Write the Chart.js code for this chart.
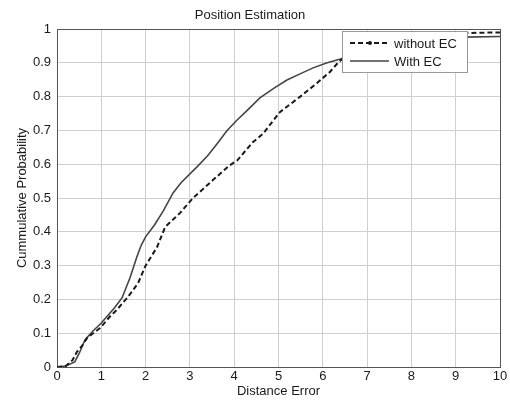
<!DOCTYPE html>
<html>
<head>
<meta charset="utf-8">
<script src="https://cdn.jsdelivr.net/npm/chart.js@4/dist/chart.umd.min.js"></script>
<style>
  html, body { margin: 0; padding: 0; background: #fff; }
  canvas { display: block; }
</style>
</head>
<body>
<canvas id="cdfChart" width="510" height="400"></canvas>
<script>
// distance error (x) and cumulative probability (y)
const withoutEcX = [0, 0.2, 0.35, 0.45, 0.55, 0.68, 0.97, 1.2, 1.35, 1.6, 1.83, 2.0, 2.26, 2.44, 2.78, 3.07, 3.52, 3.9, 4.06, 4.42, 4.65, 5.03, 5.49, 5.87, 6.16, 6.34, 6.45, 7.0, 7.5, 8.2, 8.8, 9.2, 10];
const withoutEcY = [0, 0.003, 0.02, 0.045, 0.06, 0.086, 0.115, 0.15, 0.169, 0.207, 0.248, 0.3, 0.355, 0.414, 0.456, 0.5, 0.553, 0.597, 0.61, 0.665, 0.69, 0.754, 0.8, 0.84, 0.873, 0.9, 0.912, 0.94, 0.96, 0.975, 0.983, 0.988, 0.99];

const withEcX = [0, 0.2, 0.4, 0.5, 0.63, 0.8, 1.0, 1.3, 1.47, 1.65, 1.8, 1.9, 2.0, 2.2, 2.4, 2.62, 2.8, 3.16, 3.4, 3.61, 3.84, 4.06, 4.3, 4.58, 4.9, 5.19, 5.5, 5.78, 6.1, 6.4, 6.8, 7.3, 8.0, 8.6, 9.2, 10];
const withEcY = [0, 0.003, 0.015, 0.04, 0.08, 0.105, 0.13, 0.175, 0.205, 0.265, 0.325, 0.36, 0.385, 0.42, 0.462, 0.515, 0.545, 0.592, 0.625, 0.66, 0.7, 0.73, 0.76, 0.796, 0.825, 0.849, 0.868, 0.885, 0.9, 0.911, 0.93, 0.945, 0.96, 0.97, 0.976, 0.978];

const seriesLabels = ['without EC', 'With EC'];

const fontFamily = '"Liberation Sans", Arial, sans-serif';
const textColor = '#1a1a1a';

function toPoints(xs, ys) {
    return xs.map((x, i) => ({ x: x, y: ys[i] }));
}

// box around the plot area, like matlab axes
const framePlugin = {
    id: 'frame',
    beforeDatasetsDraw(chart) {
        const a = chart.chartArea;
        const ctx = chart.ctx;
        ctx.save();
        ctx.strokeStyle = '#555';
        ctx.lineWidth = 1;
        ctx.strokeRect(a.left + 0.5, a.top + 0.5, a.right - a.left, a.bottom - a.top);
        ctx.restore();
    }
};

// legend drawn inside the axes, top right, with white fill
const boxLegendPlugin = {
    id: 'boxLegend',
    afterDatasetsDraw(chart) {
        const a = chart.chartArea;
        const ctx = chart.ctx;
        const x = a.right - 158, y = a.top + 2, w = 125, h = 41;
        ctx.save();
        ctx.fillStyle = '#fff';
        ctx.fillRect(x, y, w, h);
        ctx.strokeStyle = '#999';
        ctx.lineWidth = 1;
        ctx.strokeRect(x + 0.5, y + 0.5, w, h);

        chart.data.datasets.forEach((ds, i) => {
            const ly = y + 12 + i * 18;
            ctx.strokeStyle = ds.borderColor;
            ctx.lineWidth = ds.borderWidth;
            ctx.setLineDash(ds.borderDash || []);
            ctx.beginPath();
            ctx.moveTo(x + 8, ly);
            ctx.lineTo(x + 47, ly);
            ctx.stroke();
            ctx.setLineDash([]);
            if (i === 0) {
                ctx.fillStyle = ds.borderColor;
                ctx.beginPath();
                ctx.arc(x + 28, ly, 2, 0, Math.PI * 2);
                ctx.fill();
            }
            ctx.fillStyle = textColor;
            ctx.font = '13px ' + fontFamily;
            ctx.textBaseline = 'middle';
            ctx.fillText(ds.label, x + 52, ly + 1);
        });
        ctx.restore();
    }
};

new Chart(document.getElementById('cdfChart'), {
    type: 'line',
    data: {
        datasets: [
            {
                label: seriesLabels[0],
                data: toPoints(withoutEcX, withoutEcY),
                borderColor: '#1a1a1a',
                borderWidth: 2,
                borderDash: [5, 3],
                pointRadius: 0,
                fill: false,
                tension: 0
            },
            {
                label: seriesLabels[1],
                data: toPoints(withEcX, withEcY),
                borderColor: '#444',
                borderWidth: 1.6,
                pointRadius: 0,
                fill: false,
                tension: 0
            }
        ]
    },
    options: {
        responsive: false,
        animation: false,
        layout: { padding: { left: 0, right: 10, top: 0, bottom: 0 } },
        plugins: {
            legend: { display: false },
            tooltip: { enabled: false },
            title: {
                display: true,
                text: 'Position Estimation',
                color: textColor,
                font: { family: fontFamily, size: 13, weight: 'normal' },
                padding: { top: 8, bottom: 5.4 }
            }
        },
        scales: {
            x: {
                type: 'linear',
                min: 0,
                max: 10,
                afterFit: s => { s.height = 33; },
                ticks: {
                    stepSize: 1,
                    padding: 2,
                    color: textColor,
                    font: { family: fontFamily, size: 13 }
                },
                grid: { color: '#cfcfcf', drawTicks: false },
                border: { display: false },
                title: {
                    display: true,
                    text: 'Distance Error',
                    color: textColor,
                    font: { family: fontFamily, size: 13 },
                    padding: { top: 0, bottom: 1 }
                }
            },
            y: {
                type: 'linear',
                min: 0,
                max: 1,
                afterFit: s => { s.width = 57; },
                ticks: {
                    stepSize: 0.1,
                    padding: 6,
                    color: textColor,
                    font: { family: fontFamily, size: 13 },
                    callback: v => String(parseFloat(v.toFixed(1)))
                },
                grid: { color: '#cfcfcf', drawTicks: false },
                border: { display: false },
                title: {
                    display: true,
                    text: 'Cummulative Probability',
                    color: textColor,
                    font: { family: fontFamily, size: 13 },
                    padding: { top: 15, bottom: 0 }
                }
            }
        }
    },
    plugins: [framePlugin, boxLegendPlugin]
});
</script>
</body>
</html>
